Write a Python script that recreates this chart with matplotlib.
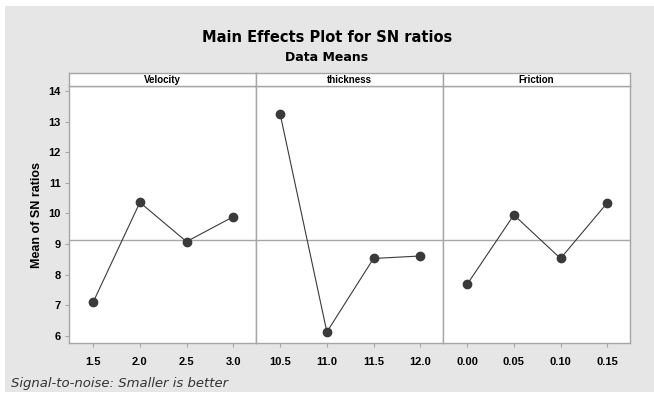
import matplotlib
matplotlib.use("Agg")
import matplotlib.pyplot as plt
from matplotlib import font_manager
from matplotlib.patches import Rectangle

# font: narrow sans if available
names = set(f.name for f in font_manager.fontManager.ttflist)
fam = "Liberation Sans Narrow" if "Liberation Sans Narrow" in names else "Liberation Sans"
plt.rcParams['font.family'] = [fam, 'DejaVu Sans']

# data
factors = ["Velocity", "thickness", "Friction"]
levels = [["1.5", "2.0", "2.5", "3.0"],
          ["10.5", "11.0", "11.5", "12.0"],
          ["0.00", "0.05", "0.10", "0.15"]]
velocity = [7.11, 10.36, 9.08, 9.89]
thickness = [13.23, 6.13, 8.53, 8.61]
friction = [7.69, 9.95, 8.53, 10.34]
means = [velocity, thickness, friction]
grand_mean = sum(velocity + thickness + friction) / 12

W, H = 654, 394
fig = plt.figure(figsize=(W / 100, H / 100), dpi=100, facecolor="white")
fig.patches.append(Rectangle((5 / W, 0.005), 1, (392 - 6) / H, transform=fig.transFigure,
                             facecolor="#e6e6e6", edgecolor="none", zorder=-10))

edge = "#a6a6a6"
left, bottom = 69 / W, 1 - 343 / H
pw, ph = 187 / W, (343 - 86) / H
strip_h = 13 / H

for i, (name, labs, vals) in enumerate(zip(factors, levels, means)):
    ax = fig.add_axes([left + i * pw, bottom, pw, ph])
    ax.set_facecolor("white")
    x = range(len(vals))
    ax.axhline(grand_mean, color=edge, lw=1.0, zorder=1)
    ax.plot(x, vals, color="#3a3a3a", lw=0.8, marker="o", ms=6,
            mfc="#3a3a3a", mec="#3a3a3a", zorder=3)
    ax.set_xlim(-0.52, 3.49)
    ax.set_ylim(5.77, 14.16)
    ax.set_xticks(list(x))
    ax.set_xticklabels(labs, fontsize=8, fontweight="bold")
    ax.tick_params(axis="x", length=3, width=0.8, color=edge, pad=7)
    if i == 0:
        ax.set_yticks(range(6, 15))
        ax.tick_params(axis="y", length=3, width=0.8, color=edge, labelsize=8, pad=3)
        for t in ax.get_yticklabels():
            t.set_fontweight("bold")
        ax.set_ylabel("Mean of SN ratios", fontsize=9, fontweight="bold", labelpad=4)
    else:
        ax.set_yticks([])
    for s in ax.spines.values():
        s.set_color(edge)
        s.set_linewidth(1.0)
    # header strip
    sax = fig.add_axes([left + i * pw, bottom + ph, pw, strip_h])
    sax.set_facecolor("white")
    sax.set_xticks([])
    sax.set_yticks([])
    for s in sax.spines.values():
        s.set_color(edge)
        s.set_linewidth(1.0)
    sax.text(0.5, 0.45, name, ha="center", va="center", fontsize=7,
             fontweight="bold", transform=sax.transAxes)

fig.text(0.5, 1 - 37.5 / H, "Main Effects Plot for SN ratios", ha="center", va="center",
         fontsize=10.5, fontweight="bold", family=["DejaVu Sans"])
fig.text(0.5, 1 - 57.5 / H, "Data Means", ha="center", va="center",
         fontsize=9, fontweight="bold", family=["DejaVu Sans"])
fig.text(11 / W, 1 - 383 / H, "Signal-to-noise: Smaller is better", ha="left", va="center",
         fontsize=9.5, style="italic", color="#333333", family=["DejaVu Sans"])

fig.savefig("out.png", dpi=100, facecolor=fig.get_facecolor())
